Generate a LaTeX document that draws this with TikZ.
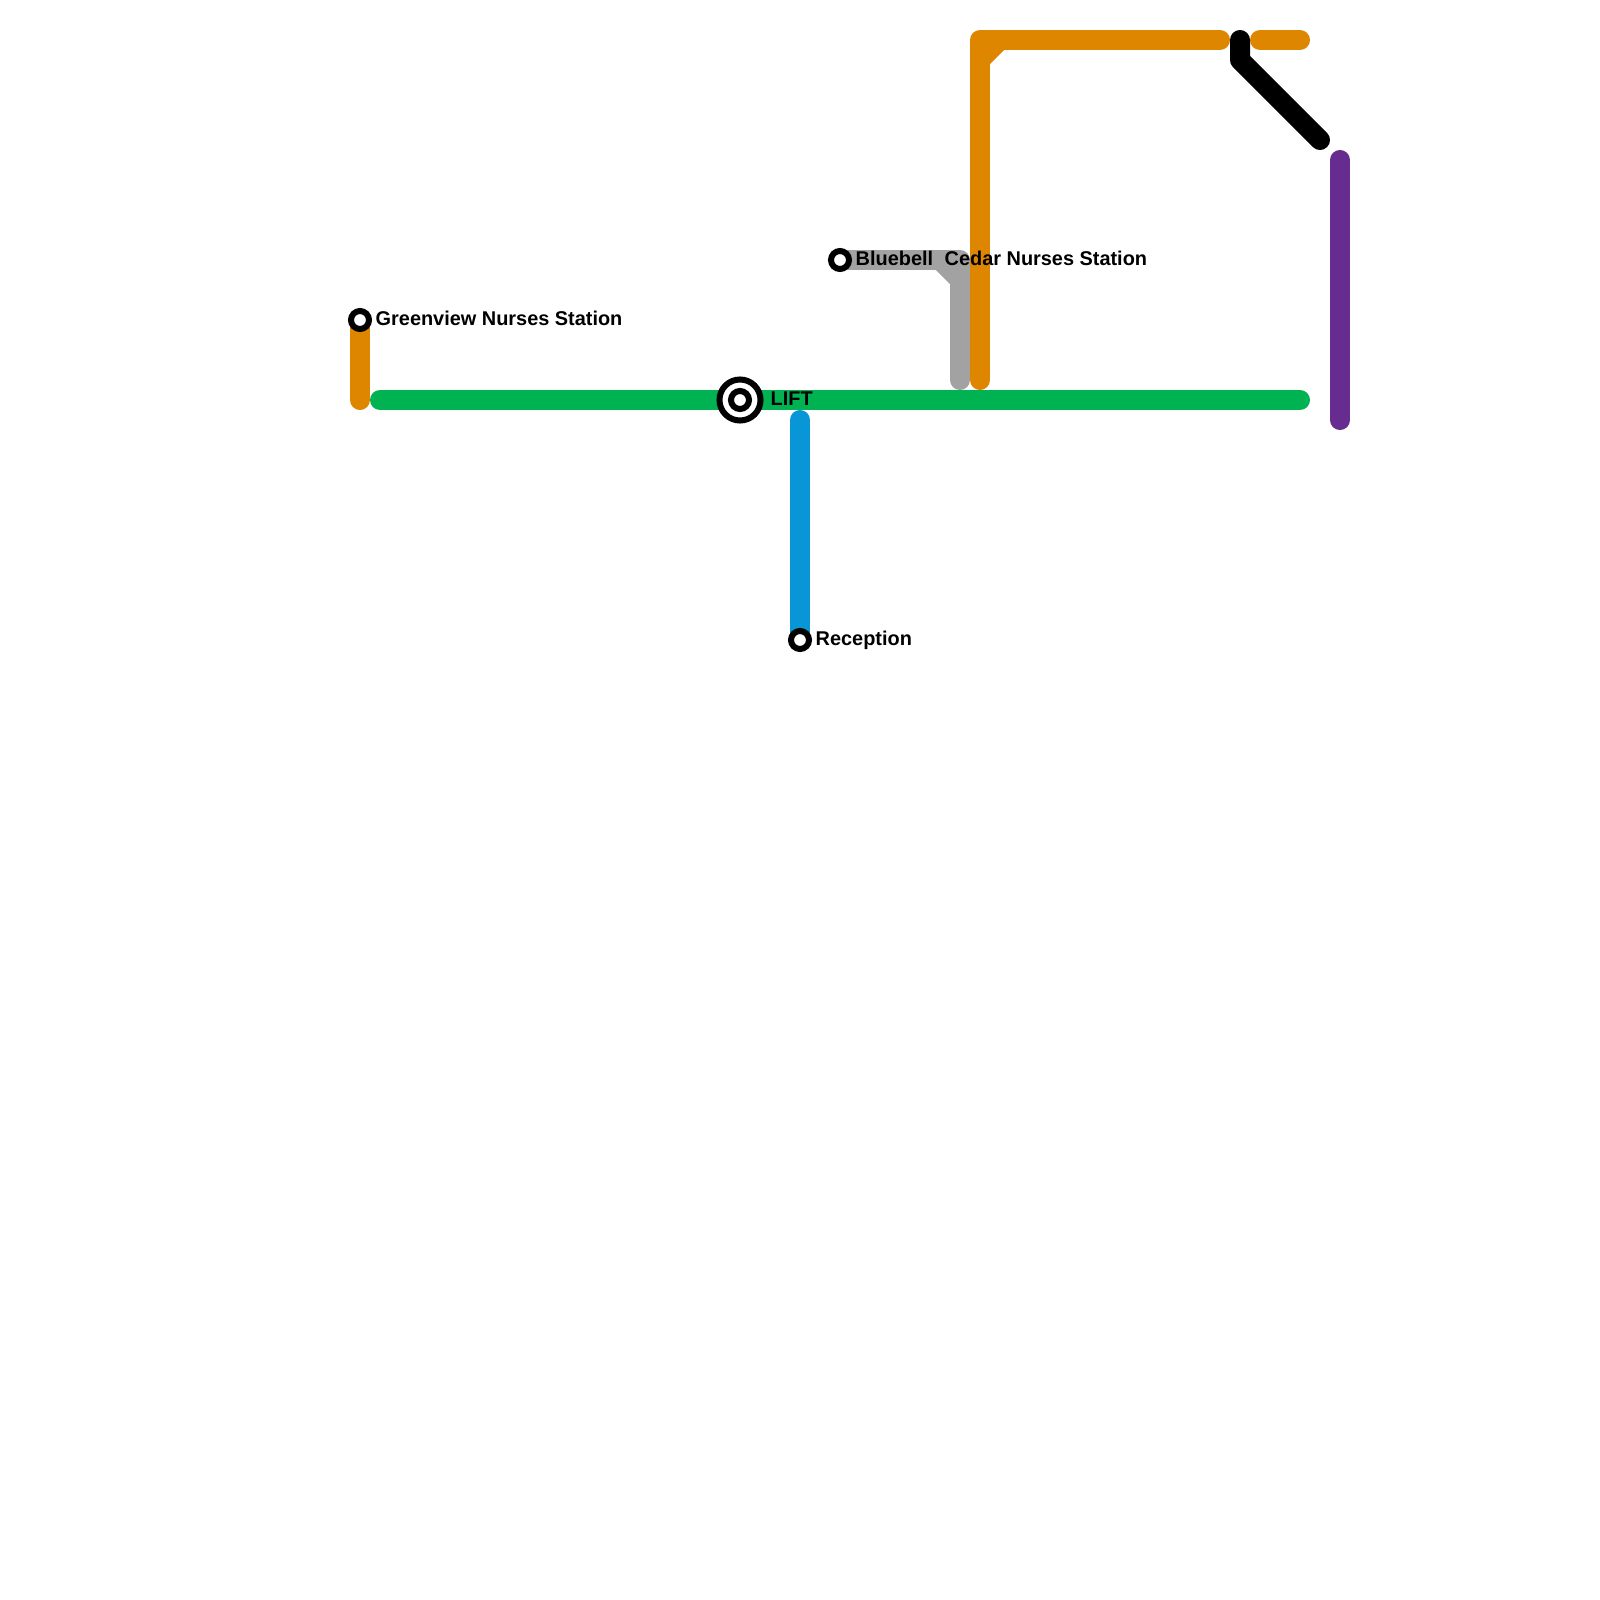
\documentclass[tikz,border=0pt]{standalone}
\usepackage{fontspec}
\setmainfont{Liberation Sans}
\usetikzlibrary{positioning}
\definecolor{lineOrange}{HTML}{DF8600}
\definecolor{lineGreen}{HTML}{00B251}
\definecolor{lineBlue}{HTML}{0896D7}
\definecolor{lineSilver}{HTML}{A2A2A2}
\definecolor{linePurple}{HTML}{662C90}
\begin{document}
\begin{tikzpicture}[x=0.01cm,y=-0.01cm,node distance=0.03cm]
    \tikzset{route/.style={line width=0.2cm,line cap=round,line join=round},
      station/.style={circle,draw=black,fill=white,line width=0.06cm,minimum size=0.18cm,inner sep=0pt},
      stationname/.style={font=\bfseries\fontsize{5.66pt}{6pt}\selectfont,text height=0.15cm,text depth=0pt,inner sep=0pt,text=black,yshift=0.025cm}}
    \useasboundingbox (0,0) rectangle (1600,1600);
    % ends of the lines
    \coordinate (wardfoot) at (360,400);
    \coordinate (mainwest) at (380,400);
    \coordinate (maineast) at (1300,400);
    \coordinate (liftfoot) at (800,420);
    \coordinate (greyend) at (960,380);
    \coordinate (greycorner) at (960,260);
    \coordinate (greybendb) at (940,260);
    \coordinate (greybendc) at (960,280);
    \coordinate (orangeend) at (980,380);
    \coordinate (orangecorner) at (980,40);
    \coordinate (orangebenda) at (980,60);
    \coordinate (orangebendb) at (1000,40);
    \coordinate (orangeeast) at (1220,40);
    \coordinate (stubwest) at (1260,40);
    \coordinate (stubeast) at (1300,40);
    \coordinate (blacktop) at (1240,40);
    \coordinate (blackbend) at (1240,60);
    \coordinate (blackend) at (1320,140);
    \coordinate (purpletop) at (1340,160);
    \coordinate (purplefoot) at (1340,420);
    \coordinate (bluebellpt) at (840,260);
    \coordinate (greenviewpt) at (360,320);
    \coordinate (receptionpt) at (800,640);
    % lines
    \draw[route,lineGreen] (mainwest) -- (maineast);
    \draw[route,lineOrange] (greenviewpt) -- (wardfoot);
    \draw[route,lineBlue] (liftfoot) -- (receptionpt);
    \draw[route,lineSilver] (bluebellpt) -- (greycorner) -- (greyend);
    \fill[lineSilver] (greybendb) -- (greycorner) -- (greybendc) -- cycle;
    \draw[route,lineSilver,line join=bevel] (greybendb) -- (greybendc);
    \draw[route,lineOrange] (orangeend) -- (orangecorner) -- (orangeeast);
    \draw[route,lineOrange,line join=bevel] (orangebenda) -- (orangebendb);
    \draw[route,lineOrange] (stubwest) -- (stubeast);
    \draw[route,black] (blacktop) -- (blackbend) -- (blackend);
    \draw[route,linePurple] (purpletop) -- (purplefoot);
    % stations
    \node[station,minimum size=0.41cm] (liftring) at (740,400) {};
    \node[station] (lift) at (740,400) {};
    \node[station] (greenview) at (greenviewpt) {};
    \node[station] (bluebell) at (bluebellpt) {};
    \node[station] (reception) at (receptionpt) {};
    \node[stationname,right=0.065cm of liftring] (liftname) {LIFT};
    \node[stationname,right=of greenview] (greenviewname) {Greenview Nurses Station};
    \node[stationname,right=of bluebell] (bluebellname) {Bluebell};
    \node[stationname,right=of reception] (receptionname) {Reception};
    \node[stationname,anchor=west] (cedarname) at (944,260) {Cedar Nurses Station};
  \end{tikzpicture}
\end{document}
